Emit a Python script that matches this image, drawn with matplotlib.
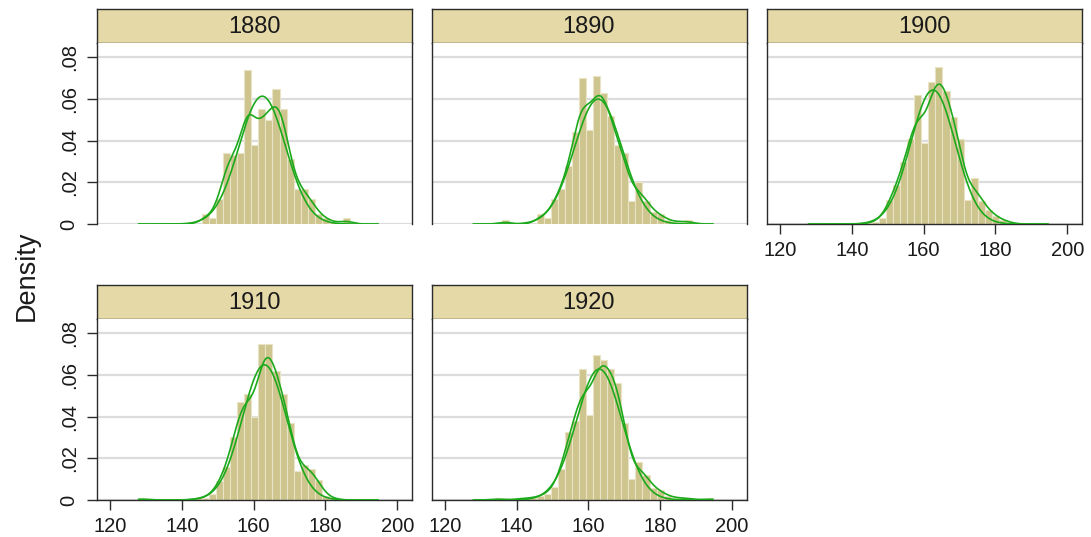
import numpy as np
import matplotlib
matplotlib.use('Agg')
import matplotlib.pyplot as plt

plt.rcParams['font.family'] = ['Liberation Sans', 'DejaVu Sans']

# --- data ---
years = ['1880', '1890', '1900', '1910', '1920']
bin_start = 128.0
bin_width = 1.96

# bar heights (density), one value per bin, 34 bins from 128
dens_1880 = [0, 0, 0, 0, 0, 0, 0, 0, 0, .005, .003, .012, .034, .033, .034, .074, .038,
             .055, .050, .065, .055, .031, .017, .017, .012, .005, .003, .001, 0, .003,
             0, 0, 0, 0]
dens_1890 = [0, 0, 0, 0, .002, 0, 0, 0, 0, .005, .003, .012, .017, .028, .044, .070, .045,
             .071, .063, .052, .038, .034, .011, .020, .011, .006, .005, .002, .001, .001,
             .002, 0, 0, 0]
dens_1900 = [0, 0, 0, 0, 0, 0, 0, 0, .0005, .001, .003, .0115, .019, .0296, .0406, .062, .039,
             .068, .0755, .064, .0515, .0406, .0115, .022, .011, .007, .004, .002, .001, 0,
             0, 0, 0, 0]
dens_1910 = [.001, 0, 0, 0, 0, 0, 0, 0, .001, .001, .003, .009, .016, .030, .047, .051, .040,
             .075, .075, .062, .051, .037, .014, .017, .015, .0095, .002, .001, 0, 0,
             0, 0, 0, 0]
dens_1920 = [0, 0, 0, .001, 0, 0, .0008, .0008, .001, .002, .003, .006, .015, .0325, .038, .0627, .041,
             .0696, .067, .063, .056, .0368, .010, .018, .012, .0056, .0048, .002, .001, .001,
             .001, 0, 0, .001]
densities = [dens_1880, dens_1890, dens_1900, dens_1910, dens_1920]

# normal density overlay parameters
norm_mean = [162.4, 162.7, 162.6, 163.0, 163.0]
norm_sd = [6.5, 6.65, 6.2, 6.15, 6.35]
kde_bw = 2.0
curve_range = (128.0, 194.6)

x_ticks = [120, 140, 160, 180, 200]
y_ticks = [0, .02, .04, .06, .08]
y_tick_labels = ['0', '.02', '.04', '.06', '.08']

# --- layout (pixels) ---
W, H = 1091, 537
fig = plt.figure(figsize=(W / 100, H / 100), dpi=100)

col_x = [(96.7, 411.7), (431.5, 746.5), (766.7, 1081.7)]
row_y = [(9.3, 42.8, 224.1), (285.2, 318.7, 500.0)]  # header top, plot top, plot bottom
dark = '#2b2b2b'
bar_col = '#CEC48D'
bar_edge = '#E9E4C6'
green = '#1CAA1C'
head_col = '#E4D9A7'


def px_axes(x0, y0, x1, y1):
    return fig.add_axes([x0 / W, 1 - y1 / H, (x1 - x0) / W, (y1 - y0) / H])


def gauss(x, m, s):
    return np.exp(-0.5 * ((x - m) / s) ** 2) / (s * np.sqrt(2 * np.pi))


xs = np.linspace(curve_range[0], curve_range[1], 400)

for i, yr in enumerate(years):
    r, c = divmod(i, 3)
    x0, x1 = col_x[c]
    ht, pt, pb = row_y[r]

    # header strip
    hax = px_axes(x0, ht, x1, pt)
    hax.set_facecolor(head_col)
    hax.set_xticks([])
    hax.set_yticks([])
    for s in hax.spines.values():
        s.set_color(dark)
        s.set_linewidth(1.0)
    hax.text(0.5, 0.47, yr, ha='center', va='center', fontsize=17, color='#1a1a1a',
             transform=hax.transAxes)

    ax = px_axes(x0, pt, x1, pb)
    h = np.array(densities[i])
    edges = bin_start + bin_width * np.arange(len(h) + 1)
    ax.bar(edges[:-1], h, width=bin_width, align='edge', color=bar_col,
           edgecolor=bar_edge, linewidth=0.8, zorder=2)

    # kernel density (smoothed from the bars) and normal density
    centers = edges[:-1] + bin_width / 2
    kde = bin_width * (h[:, None] * gauss(xs[None, :], centers[:, None], kde_bw)).sum(axis=0)
    ax.plot(xs, kde, color=green, lw=1.2, zorder=3)
    ax.plot(xs, gauss(xs, norm_mean[i], norm_sd[i]), color=green, lw=1.2, zorder=3)

    ax.set_xlim(116.3, 204.0)
    ax.set_ylim(0, 0.087)
    ax.set_yticks(y_ticks)
    ax.set_xticks(x_ticks)
    ax.yaxis.grid(True, color='#DCDCDC', linewidth=1.6)
    ax.set_axisbelow(True)
    ax.spines['top'].set_visible(False)
    for s in ['left', 'right', 'bottom']:
        ax.spines[s].set_color(dark)
        ax.spines[s].set_linewidth(1.0)

    has_x = (r == 1) or (i == 2)
    has_y = (c == 0)
    ax.tick_params(axis='both', length=7, width=1, color=dark, labelsize=14.5,
                   labelcolor='#1a1a1a')
    ax.tick_params(axis='x', pad=5)
    ax.tick_params(axis='y', pad=6)
    if has_x:
        ax.set_xticklabels([str(t) for t in x_ticks])
    else:
        ax.spines['bottom'].set_visible(False)
        ax.tick_params(axis='x', bottom=False, labelbottom=False)
    if has_y:
        ax.set_yticklabels(y_tick_labels, rotation=90, va='center')
    else:
        ax.tick_params(axis='y', left=False, labelleft=False)

fig.text(27 / W, 1 - 276 / H, 'Density', rotation=90, ha='center', va='center',
         fontsize=19.5, color='#1a1a1a')

fig.savefig('out.png', dpi=100)
